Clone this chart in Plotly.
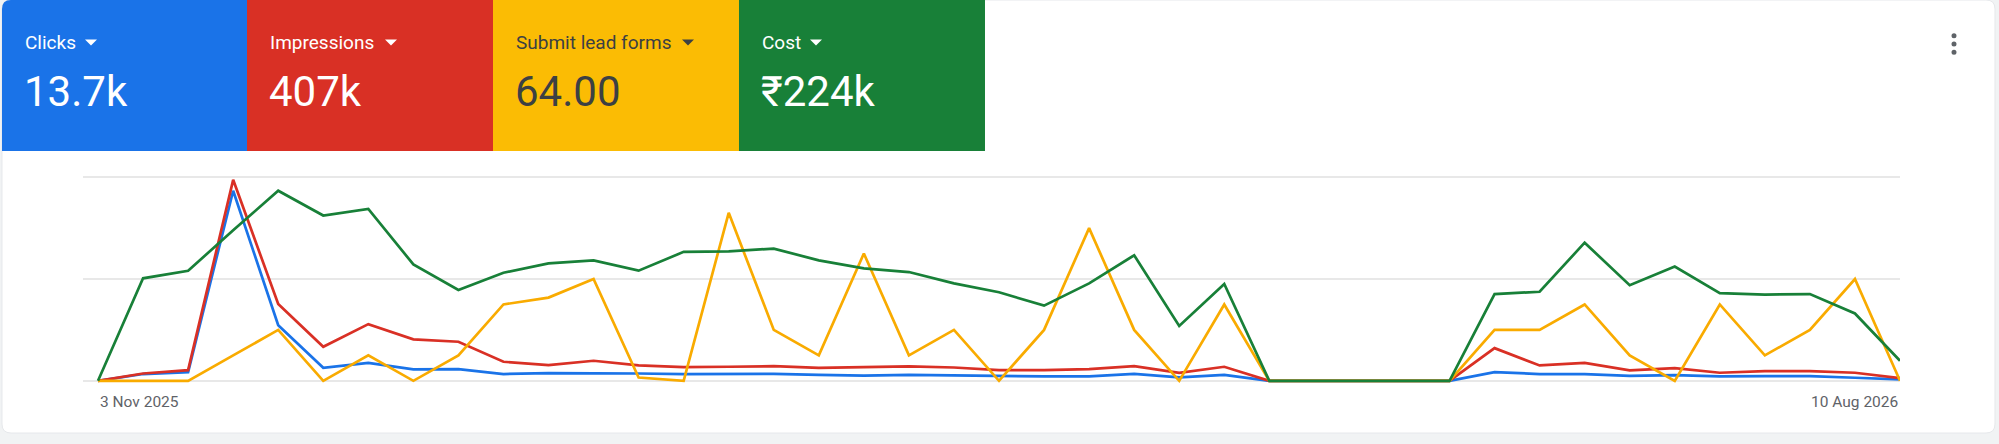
import pandas as pd
import plotly.graph_objects as go

# weekly points, 3 Nov 2025 .. 10 Aug 2026
weeks = pd.date_range("2025-11-03", "2026-08-10", freq="7D")

clicks = [0, 200, 255, 5600, 1640, 385, 530, 335, 345, 200, 225, 225, 215, 200, 205, 205, 175, 155, 175, 155,
          130, 130, 130, 205, 100, 175, 0, 0, 0, 0, 0, 255, 200, 200, 145, 170, 130, 140, 140, 90, 40]
impressions = [0, 3600, 5250, 98700, 37700, 16700, 27850, 20350, 19200, 9350, 7700, 9850, 7550, 6700, 6900, 7200,
               6400, 6900, 7050, 6550, 5250, 5250, 5750, 7200, 3950, 6900, 0, 0, 0, 0, 0, 16050, 7550, 8850, 5100,
               6250, 3950, 4750, 4750, 3950, 1300]
leads = [0, 0, 0, 1, 2, 0, 1, 0, 1, 3, 3.27, 4, 0.13, 0, 6.6, 2, 1, 5, 1, 2, 0, 2, 6, 2, 0, 3, 0, 0, 0, 0, 0,
         2, 2, 3, 1, 0, 3, 1, 2, 4, 0]
cost = [0, 6040, 6480, 8880, 11200, 9740, 10130, 6860, 5350, 6370, 6920, 7100, 6490, 7600, 7630, 7790, 7100, 6630,
        6410, 5740, 5220, 4430, 5740, 7400, 3230, 5710, 0, 0, 0, 0, 0, 5110, 5250, 8140, 5630, 6730, 5170, 5080,
        5110, 3970, 1180]

metric_names = ["Clicks", "Impressions", "Submit lead forms", "Cost"]
metric_totals = ["13.7k", "407k", "64.00", "₹224k"]
axis_tops = [6000, 100000, 8, 12000]  # each metric has its own hidden scale

colors = ["#1a73e8", "#d93025", "#f9ab00", "#188038"]
tile_colors = ["#1a73e8", "#d93025", "#fbbc04", "#188038"]
text_colors = ["#ffffff", "#ffffff", "#3c4043", "#ffffff"]

W, H = 1999, 444
ML, MR, MT, MB = 83, 99, 167, 53
PW = W - ML - MR
PH = H - MT - MB


def px(x):  # pixel -> paper x
    return (x - ML) / PW


def py(y):  # pixel (from top) -> paper y
    return (H - MB - y) / PH


def rounded_path(x0, y0, x1, y1, r, corners=(1, 1, 1, 1)):
    tl, tr, br, bl = [r * c for c in corners]
    X = lambda v: f"{px(v):.5f}"
    Y = lambda v: f"{py(v):.5f}"
    return (f"M {X(x0 + tl)},{Y(y0)} L {X(x1 - tr)},{Y(y0)} Q {X(x1)},{Y(y0)} {X(x1)},{Y(y0 + tr)} "
            f"L {X(x1)},{Y(y1 - br)} Q {X(x1)},{Y(y1)} {X(x1 - br)},{Y(y1)} "
            f"L {X(x0 + bl)},{Y(y1)} Q {X(x0)},{Y(y1)} {X(x0)},{Y(y1 - bl)} "
            f"L {X(x0)},{Y(y0 + tl)} Q {X(x0)},{Y(y0)} {X(x0 + tl)},{Y(y0)} Z")


fig = go.Figure()
series = [clicks, impressions, leads, cost]
axes = ["y", "y2", "y3", "y4"]
for name, vals, col, ax in zip(metric_names, series, colors, axes):
    fig.add_trace(go.Scatter(x=weeks, y=vals, mode="lines", name=name, yaxis=ax,
                             line=dict(color=col, width=2.7), hoverinfo="skip"))

shapes = []
# card
shapes.append(dict(type="path", xref="paper", yref="paper", layer="below",
                   path=rounded_path(2, 0, 1995, 433, 9),
                   fillcolor="#ffffff", line=dict(color="#e6e8eb", width=1)))
# metric tiles
tile_x = [2, 247, 493, 739, 985]
for i in range(4):
    corners = (1, 0, 0, 0) if i == 0 else (0, 0, 0, 0)
    shapes.append(dict(type="path", xref="paper", yref="paper", layer="below",
                       path=rounded_path(tile_x[i], 0, tile_x[i + 1], 151, 9, corners),
                       fillcolor=tile_colors[i], line=dict(width=0)))
# dropdown arrows
arrow_x = [85, 385, 682, 810]
for i, ax0 in enumerate(arrow_x):
    shapes.append(dict(type="path", xref="paper", yref="paper",
                       path=f"M {px(ax0)},{py(39.5)} L {px(ax0 + 12)},{py(39.5)} L {px(ax0 + 6)},{py(45.5)} Z",
                       fillcolor=text_colors[i], line=dict(width=0)))
# kebab menu
for dy in [35.7, 44, 52.3]:
    shapes.append(dict(type="circle", xref="paper", yref="paper",
                       x0=px(1951.5), x1=px(1956.5), y0=py(dy - 2.5), y1=py(dy + 2.5),
                       fillcolor="#5f6368", line=dict(width=0)))

annotations = []
for i in range(4):
    annotations.append(dict(xref="paper", yref="paper", x=px(tile_x[i] + 21), y=py(42),
                            xanchor="left", yanchor="middle", showarrow=False, text=metric_names[i],
                            font=dict(family="Roboto", size=19, color=text_colors[i])))
    annotations.append(dict(xref="paper", yref="paper", x=px(tile_x[i] + 20), y=py(91),
                            xanchor="left", yanchor="middle", showarrow=False, text=metric_totals[i],
                            font=dict(family="Roboto", size=42, color=text_colors[i])))
# date labels at the ends of the axis
annotations.append(dict(xref="x", yref="paper", x=weeks[0], y=py(402), xanchor="left", yanchor="middle",
                        showarrow=False, text=weeks[0].strftime("%-d %b %Y"),
                        font=dict(family="Roboto", size=15.5, color="#5f6368")))
annotations.append(dict(xref="x", yref="paper", x=weeks[-1], y=py(402), xanchor="right", yanchor="middle",
                        showarrow=False, text=weeks[-1].strftime("%-d %b %Y"),
                        font=dict(family="Roboto", size=15.5, color="#5f6368")))


def yrange(top):
    half = top / 2
    return [-0.1 * half, 2.1 * half]


fig.update_layout(
    width=W, height=H,
    margin=dict(l=ML, r=MR, t=MT, b=MB),
    paper_bgcolor="#f1f3f4",
    plot_bgcolor="rgba(0,0,0,0)",
    showlegend=False,
    shapes=shapes,
    annotations=annotations,
    font=dict(family="Roboto"),
    xaxis=dict(type="date", range=["2025-10-31 16:00", "2026-08-10"], showgrid=False,
               showticklabels=False, zeroline=False, showline=False, ticks=""),
    yaxis=dict(range=yrange(axis_tops[0]), tickvals=[0, axis_tops[0] / 2, axis_tops[0]],
               showgrid=True, gridcolor="#e8e8e8", gridwidth=2, showticklabels=False,
               zeroline=False, ticks=""),
    yaxis2=dict(range=yrange(axis_tops[1]), overlaying="y", visible=False),
    yaxis3=dict(range=yrange(axis_tops[2]), overlaying="y", visible=False),
    yaxis4=dict(range=yrange(axis_tops[3]), overlaying="y", visible=False),
)

# drop the default 8px body margin so the figure sits at the window's corner
fig.write_html("out.html", config={"displayModeBar": False},
               post_script="document.body.style.margin = '0px';")
